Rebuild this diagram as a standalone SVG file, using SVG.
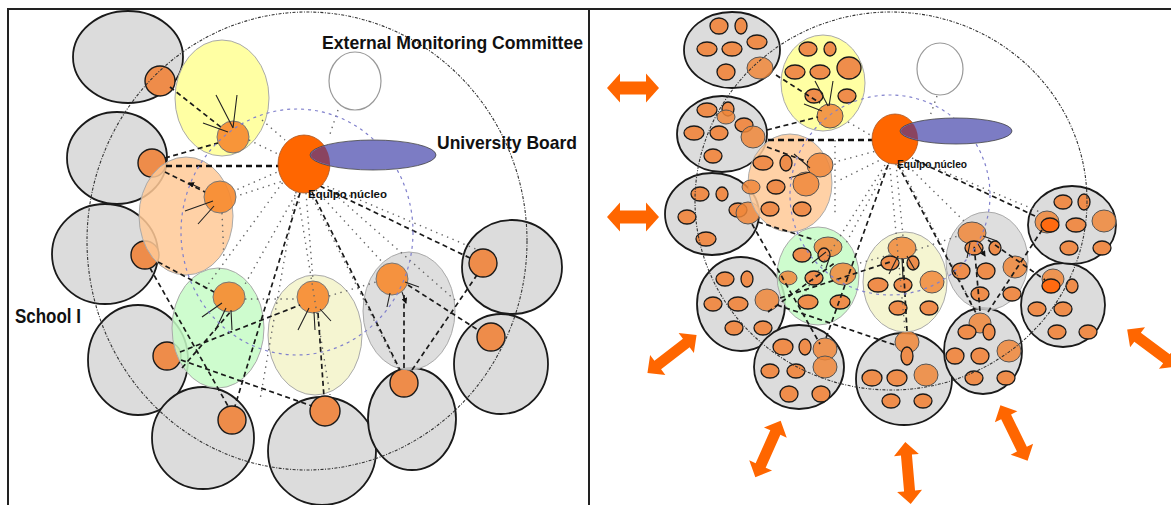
<svg xmlns="http://www.w3.org/2000/svg" width="1171" height="505" viewBox="0 0 1171 505">
<style>
  .frame{stroke:#222;stroke-width:2;fill:none}
  .sc{fill:#dcdcdc;stroke:#1a1a1a;stroke-width:1.8}
  .o{fill:#ee8c4a;stroke:#1a1a1a;stroke-width:1.4}
  .oc{fill:#f7892e;fill-opacity:.9;stroke:#777;stroke-width:1}
  .s{fill:#ef8d4b;stroke:#1a1a1a;stroke-width:1.3}
  .sb{fill:#f0873a;fill-opacity:.85;stroke:#555;stroke-width:1}
  .sd{fill:#ff6a10;stroke:#1a1a1a;stroke-width:1.3}
  .y{fill:#ffff99;fill-opacity:.9;stroke:#aaa;stroke-width:1}
  .p{fill:#ffc996;fill-opacity:.85;stroke:#aaa;stroke-width:1}
  .g{fill:#c6fcc6;fill-opacity:.85;stroke:#aaa;stroke-width:1}
  .ly{fill:#f4f4cc;fill-opacity:.9;stroke:#aaa;stroke-width:1}
  .gr{fill:#d8d8d8;fill-opacity:.85;stroke:#aaa;stroke-width:1}
  .eq{fill:#ff6600;stroke:#aa5522;stroke-width:.8}
  .ub{fill:#7c7cc4;stroke:#444;stroke-width:.8}
  .ubx{fill:#8a4460}
  .wc{fill:#fff;stroke:#999;stroke-width:1.2}
  .dash{stroke:#1a1a1a;stroke-width:1.7;stroke-dasharray:5 3.5;fill:none}
  .heavy{stroke:#111;stroke-width:2.3;stroke-dasharray:6 4;fill:none}
  .dot{stroke:#666;stroke-width:1.4;stroke-dasharray:1.4 4.5;fill:none}
  .blue{stroke:#8080cc;stroke-width:1.2;stroke-dasharray:3 4;fill:none}
  .ring{stroke:#333;stroke-width:1.1;stroke-dasharray:3 1.5 1 1.5;fill:none}
  .ar{stroke:#222;stroke-width:1.1;fill:none;marker-end:url(#ah)}
  .big{fill:#ff6600}
  text{font-family:"Liberation Sans",Arial,sans-serif;font-weight:bold;fill:#111}
</style>
<defs>
  <marker id="ah" viewBox="0 0 6 6" refX="5" refY="3" markerWidth="6" markerHeight="6" markerUnits="userSpaceOnUse" orient="auto">
    <path d="M0,0 L6,3 L0,6 z" fill="#111"/>
  </marker>
  <path id="dblH" d="M-26,0 L-13,-14.5 L-13,-6.5 L13,-6.5 L13,-14.5 L26,0 L13,14.5 L13,6.5 L-13,6.5 L-13,14.5 Z"/>
  <path id="dblD" d="M-31,0 L-18,-12.5 L-18,-5.5 L18,-5.5 L18,-12.5 L31,0 L18,12.5 L18,5.5 L-18,5.5 L-18,12.5 Z"/>
  <clipPath id="eqL"><ellipse cx="304" cy="164" rx="26" ry="29"/></clipPath>
  <clipPath id="eqR"><ellipse cx="895" cy="139" rx="23" ry="25"/></clipPath>
</defs>

<rect width="1171" height="505" fill="#fff"/>

<!-- panel frame -->
<g id="frame">
  <path class="frame" d="M8,505 V9 H1171 M589,9 V505"/>
</g>

<!-- ===== left panel: institution-wide view ===== -->
<g id="left-schools">
  <g id="school-l1"><ellipse class="sc" cx="128" cy="57" rx="55" ry="46"/><circle class="o" cx="160" cy="81" r="15"/></g>
  <g id="school-l2"><ellipse class="sc" cx="117" cy="158" rx="50" ry="46"/><circle class="o" cx="152" cy="163" r="14"/></g>
  <g id="school-l3"><ellipse class="sc" cx="105" cy="254" rx="53" ry="50"/><circle class="o" cx="145" cy="255" r="14"/></g>
  <g id="school-l4"><ellipse class="sc" cx="138" cy="360" rx="50" ry="55"/><circle class="o" cx="167" cy="356" r="14"/></g>
  <g id="school-l5"><ellipse class="sc" cx="203" cy="438" rx="51" ry="51"/><circle class="o" cx="232" cy="420" r="14"/></g>
  <g id="school-l6"><ellipse class="sc" cx="322" cy="451" rx="54" ry="54"/><circle class="o" cx="325" cy="411" r="15"/></g>
  <g id="school-l7"><ellipse class="sc" cx="412" cy="419" rx="44" ry="51"/><circle class="o" cx="404" cy="383" r="14"/></g>
  <g id="school-l8"><ellipse class="sc" cx="501" cy="364" rx="47" ry="50"/><circle class="o" cx="491" cy="337" r="14"/></g>
  <g id="school-l9"><ellipse class="sc" cx="512" cy="267" rx="50" ry="47"/><circle class="o" cx="483" cy="263" r="14"/></g>
</g>

<g id="left-groups">
  <g id="group-l-yellow"><ellipse class="y" cx="222" cy="98" rx="47" ry="58"/><circle class="oc" cx="233" cy="137" r="16"/></g>
  <g id="group-l-peach"><ellipse class="p" cx="186" cy="216" rx="47" ry="59"/><circle class="oc" cx="220" cy="197" r="16"/></g>
  <g id="group-l-green"><ellipse class="g" cx="218" cy="328" rx="46" ry="60"/><ellipse class="oc" cx="229" cy="297" rx="16" ry="15"/></g>
  <g id="group-l-cream"><ellipse class="ly" cx="315" cy="335" rx="47" ry="60"/><circle class="oc" cx="313" cy="297" r="16"/></g>
  <g id="group-l-grey"><ellipse class="gr" cx="409" cy="311" rx="46" ry="59"/><circle class="oc" cx="392" cy="279" r="16"/></g>
</g>

<g id="left-connectors">
  <!-- dotted coordination links -->
  <path class="dot" d="M292,178 L240,195 M298,190 L244,286 M306,193 L313,280 M316,190 L384,264 M322,184 L478,250 M286,178 L204,290 M310,193 L398,368 M296,192 L260,400 M282,170 L236,190 M249,140 L282,156 M338,110 L330,134 M245,299 L297,299 M329,296 L376,282 M222,213 L224,260 M262,120 L285,140 M330,190 L455,300 M298,196 L330,395"/>
  <!-- dashed links -->
  <path class="dash" d="M170,87 L222,128 M165,158 L218,143 M165,172 L205,192 M320,186 L470,258 M312,192 L400,370 M300,193 L235,406 M318,313 L324,397 M181,360 L312,406 M404,295 L404,369 M412,370 L477,275 M408,285 L478,330 M180,352 L300,305 M158,262 L214,292 M150,268 L228,406 M182,368 L232,310"/>
  <path class="heavy" d="M166,166 L292,166"/>
  <!-- arrows inside groups -->
  <path class="ar" d="M233,128 L216,95 M233,128 L237,95 M228,132 L203,123 M213,201 L185,211 M214,206 L198,224 M222,303 L202,317 M226,308 L215,331 M231,310 L232,330 M309,308 L298,330 M314,312 L315,330 M320,309 L331,321 M405,282 L419,287 M390,293 L387,307 M402,292 L406,303"/>
  <path class="ar" d="M200,188 L189,183"/>
  <!-- blue dotted core ring -->
  <ellipse class="blue" cx="297" cy="232" rx="116" ry="123"/>
  <!-- outer institutional ring -->
  <ellipse class="ring" cx="307" cy="241" rx="220" ry="229"/>
</g>

<g id="committee-l"><ellipse class="wc" cx="355" cy="81" rx="26" ry="29"/></g>
<g id="core-team-l">
  <ellipse class="eq" cx="304" cy="164" rx="26" ry="29"/>
</g>
<g id="board-l">
  <ellipse class="ub" cx="373" cy="155" rx="63" ry="15"/>
  <ellipse class="ubx" cx="373" cy="155" rx="62" ry="14" clip-path="url(#eqL)"/>
</g>

<g id="labels-l">
  <text x="322" y="49" font-size="18" textLength="261" lengthAdjust="spacingAndGlyphs">External Monitoring Committee</text>
  <text x="437" y="149" font-size="19" textLength="140" lengthAdjust="spacingAndGlyphs">University Board</text>
  <text x="308" y="198" font-size="11" textLength="79" lengthAdjust="spacingAndGlyphs">Equipo núcleo</text>
  <text x="15" y="323" font-size="20" textLength="66" lengthAdjust="spacingAndGlyphs">School I</text>
</g>

<!-- ===== right panel: schools expanded into teams ===== -->
<g id="right-schools">
  <g id="school-r1"><ellipse class="sc" cx="732" cy="50" rx="48" ry="38"/>
    <ellipse class="s" cx="719" cy="26" rx="9" ry="8"/><ellipse class="s" cx="741" cy="26" rx="6" ry="8"/><ellipse class="s" cx="757" cy="42" rx="10" ry="7"/><ellipse class="s" cx="707" cy="49" rx="10" ry="7"/><ellipse class="s" cx="732" cy="49" rx="10" ry="7"/><ellipse class="s" cx="726" cy="72" rx="9" ry="8"/><ellipse class="sb" cx="760" cy="68" rx="13" ry="11"/></g>
  <g id="school-r2"><ellipse class="sc" cx="722" cy="134" rx="45" ry="38"/>
    <ellipse class="s" cx="707" cy="110" rx="10" ry="7"/><ellipse class="s" cx="728" cy="109" rx="6" ry="7"/><ellipse class="sb" cx="726" cy="117" rx="9" ry="7"/><ellipse class="s" cx="694" cy="133" rx="10" ry="7"/><ellipse class="s" cx="719" cy="133" rx="9" ry="7"/><ellipse class="s" cx="744" cy="125" rx="9" ry="7"/><ellipse class="s" cx="713" cy="156" rx="9" ry="7"/><ellipse class="sb" cx="753" cy="137" rx="12" ry="11"/></g>
  <g id="school-r3"><ellipse class="sc" cx="712" cy="214" rx="47" ry="41"/>
    <ellipse class="s" cx="700" cy="194" rx="9" ry="7"/><ellipse class="s" cx="722" cy="194" rx="6" ry="7"/><ellipse class="s" cx="687" cy="217" rx="9" ry="7"/><ellipse class="s" cx="738" cy="210" rx="9" ry="7"/><ellipse class="s" cx="706" cy="239" rx="10" ry="7"/><ellipse class="sb" cx="748" cy="213" rx="12" ry="11"/></g>
  <g id="school-r4"><ellipse class="sc" cx="741" cy="304" rx="44" ry="47"/>
    <ellipse class="s" cx="725" cy="279" rx="9" ry="7"/><ellipse class="s" cx="747" cy="279" rx="6" ry="8"/><ellipse class="s" cx="713" cy="304" rx="9" ry="7"/><ellipse class="s" cx="738" cy="304" rx="10" ry="7"/><ellipse class="sb" cx="767" cy="300" rx="12" ry="11"/><ellipse class="s" cx="734" cy="328" rx="9" ry="7"/><ellipse class="s" cx="763" cy="328" rx="9" ry="7"/></g>
  <g id="school-r5"><ellipse class="sc" cx="799" cy="367" rx="45" ry="42"/>
    <ellipse class="s" cx="783" cy="347" rx="10" ry="8"/><ellipse class="s" cx="805" cy="347" rx="6" ry="8"/><ellipse class="sb" cx="825" cy="349" rx="12" ry="11"/><ellipse class="s" cx="770" cy="371" rx="9" ry="7"/><ellipse class="s" cx="796" cy="371" rx="9" ry="7"/><ellipse class="sb" cx="825" cy="367" rx="12" ry="11"/><ellipse class="s" cx="789" cy="394" rx="9" ry="8"/><ellipse class="s" cx="821" cy="394" rx="9" ry="8"/></g>
  <g id="school-r6"><ellipse class="sc" cx="904" cy="379" rx="48" ry="46"/>
    <ellipse class="sb" cx="907" cy="342" rx="12" ry="11"/><ellipse class="s" cx="907" cy="356" rx="6" ry="9"/><ellipse class="s" cx="872" cy="378" rx="10" ry="8"/><ellipse class="s" cx="897" cy="378" rx="10" ry="8"/><ellipse class="sb" cx="926" cy="375" rx="12" ry="11"/><ellipse class="s" cx="891" cy="401" rx="9" ry="7"/><ellipse class="s" cx="923" cy="401" rx="9" ry="7"/></g>
  <g id="school-r7"><ellipse class="sc" cx="983" cy="351" rx="39" ry="43"/>
    <ellipse class="sb" cx="980" cy="323" rx="11" ry="10"/><ellipse class="s" cx="967" cy="332" rx="9" ry="7"/><ellipse class="s" cx="989" cy="332" rx="6" ry="8"/><ellipse class="s" cx="955" cy="356" rx="9" ry="8"/><ellipse class="s" cx="980" cy="356" rx="9" ry="8"/><ellipse class="sb" cx="1009" cy="351" rx="12" ry="11"/><ellipse class="s" cx="974" cy="378" rx="9" ry="7"/><ellipse class="s" cx="1006" cy="378" rx="9" ry="7"/></g>
  <g id="school-r8"><ellipse class="sc" cx="1063" cy="305" rx="42" ry="42"/>
    <ellipse class="sb" cx="1053" cy="279" rx="11" ry="10"/><ellipse class="sd" cx="1051" cy="286" rx="9" ry="7"/><ellipse class="s" cx="1072" cy="286" rx="6" ry="7"/><ellipse class="s" cx="1037" cy="309" rx="9" ry="7"/><ellipse class="s" cx="1063" cy="309" rx="9" ry="7"/><ellipse class="s" cx="1057" cy="332" rx="9" ry="7"/><ellipse class="s" cx="1088" cy="332" rx="9" ry="7"/></g>
  <g id="school-r9"><ellipse class="sc" cx="1072" cy="225" rx="44" ry="39"/>
    <ellipse class="s" cx="1063" cy="202" rx="9" ry="7"/><ellipse class="s" cx="1084" cy="202" rx="6" ry="8"/><ellipse class="sb" cx="1047" cy="222" rx="12" ry="11"/><ellipse class="sd" cx="1050" cy="225" rx="9" ry="7"/><ellipse class="s" cx="1076" cy="225" rx="10" ry="7"/><ellipse class="sb" cx="1104" cy="221" rx="12" ry="11"/><ellipse class="s" cx="1069" cy="248" rx="9" ry="7"/><ellipse class="s" cx="1102" cy="248" rx="9" ry="7"/></g>
</g>

<g id="right-groups">
  <g id="group-r-yellow"><ellipse class="y" cx="823" cy="83" rx="42" ry="48"/>
    <ellipse class="s" cx="808" cy="49" rx="9" ry="7"/><ellipse class="s" cx="830" cy="49" rx="6" ry="7"/><ellipse class="s" cx="795" cy="72" rx="10" ry="7"/><ellipse class="s" cx="820" cy="72" rx="10" ry="7"/><ellipse class="s" cx="849" cy="68" rx="12" ry="11"/><ellipse class="s" cx="814" cy="96" rx="9" ry="7"/><ellipse class="s" cx="847" cy="96" rx="9" ry="7"/><ellipse class="sb" cx="830" cy="116" rx="13" ry="12"/></g>
  <g id="group-r-peach"><ellipse class="p" cx="790" cy="183" rx="42" ry="49"/>
    <ellipse class="s" cx="763" cy="163" rx="10" ry="7"/><ellipse class="s" cx="786" cy="163" rx="6" ry="8"/><ellipse class="sb" cx="820" cy="165" rx="13" ry="12"/><ellipse class="sb" cx="751" cy="187" rx="9" ry="7"/><ellipse class="s" cx="776" cy="187" rx="9" ry="7"/><ellipse class="sb" cx="806" cy="184" rx="13" ry="12"/><ellipse class="s" cx="770" cy="209" rx="9" ry="7"/><ellipse class="s" cx="802" cy="209" rx="9" ry="7"/></g>
  <g id="group-r-green"><ellipse class="g" cx="818" cy="276" rx="41" ry="49"/>
    <ellipse class="s" cx="802" cy="255" rx="9" ry="7"/><ellipse class="sb" cx="828" cy="247" rx="14" ry="10"/><ellipse class="s" cx="824" cy="255" rx="6" ry="7"/><ellipse class="sb" cx="788" cy="278" rx="9" ry="7"/><ellipse class="s" cx="814" cy="278" rx="9" ry="7"/><ellipse class="sb" cx="843" cy="274" rx="13" ry="11"/><ellipse class="s" cx="808" cy="302" rx="10" ry="7"/><ellipse class="s" cx="840" cy="302" rx="10" ry="7"/></g>
  <g id="group-r-cream"><ellipse class="ly" cx="905" cy="282" rx="42" ry="50"/>
    <ellipse class="sb" cx="902" cy="248" rx="14" ry="11"/><ellipse class="s" cx="890" cy="263" rx="9" ry="7"/><ellipse class="s" cx="913" cy="263" rx="6" ry="7"/><ellipse class="s" cx="878" cy="285" rx="10" ry="7"/><ellipse class="s" cx="903" cy="285" rx="9" ry="7"/><ellipse class="sb" cx="932" cy="282" rx="12" ry="11"/><ellipse class="s" cx="898" cy="308" rx="9" ry="7"/><ellipse class="s" cx="929" cy="308" rx="9" ry="7"/></g>
  <g id="group-r-grey"><ellipse class="gr" cx="987" cy="261" rx="41" ry="49"/>
    <ellipse class="sb" cx="972" cy="233" rx="14" ry="11"/><ellipse class="s" cx="974" cy="248" rx="9" ry="7"/><ellipse class="s" cx="995" cy="248" rx="6" ry="7"/><ellipse class="s" cx="961" cy="271" rx="9" ry="8"/><ellipse class="s" cx="986" cy="271" rx="9" ry="8"/><ellipse class="sb" cx="1015" cy="267" rx="12" ry="11"/><ellipse class="s" cx="980" cy="294" rx="9" ry="7"/><ellipse class="s" cx="1012" cy="294" rx="9" ry="7"/></g>
</g>

<g id="right-connectors">
  <path class="dot" d="M835,140 L835,215 M884,158 L840,180 M889,163 L845,245 M896,164 L903,236 M904,162 L965,222 M912,158 L1040,212 M880,150 L835,162 M860,263 L893,254 M916,250 L958,236 M885,165 L800,300 M900,165 L975,310 M937,96 L930,116 M848,122 L872,136 M890,168 L905,330"/>
  <path class="dash" d="M776,75 L820,103 M767,130 L818,117 M767,147 L808,162 M915,160 L1035,216 M898,165 L976,313 M888,165 L826,338 M907,331 L903,259 M777,305 L895,345 M980,311 L974,244 M988,312 L1042,230 M988,240 L1045,280 M780,298 L890,262 M758,222 L815,240 M752,224 L820,344 M768,312 L836,262"/>
  <path class="heavy" d="M768,140 L875,140"/>
  <path class="ar" d="M828,106 L815,81 M829,106 L833,81 M822,111 L804,104 M810,168 L794,154 M810,172 L789,178 M826,252 L812,263 M830,256 L826,268 M898,256 L889,274 M902,258 L903,279 M907,256 L915,270 M983,236 L997,241 M970,243 L967,258 M978,244 L985,256"/>
  <ellipse class="blue" cx="890" cy="195" rx="100" ry="100"/>
  <ellipse class="ring" cx="891" cy="201" rx="196" ry="189"/>
</g>

<g id="committee-r"><ellipse class="wc" cx="940" cy="69" rx="23" ry="26"/></g>
<g id="core-team-r"><ellipse class="eq" cx="895" cy="139" rx="23" ry="25"/></g>
<g id="board-r">
  <ellipse class="ub" cx="956" cy="131" rx="56" ry="13"/>
  <ellipse class="ubx" cx="956" cy="131" rx="55" ry="12" clip-path="url(#eqR)"/>
</g>
<g id="labels-r">
  <text x="897" y="168" font-size="10" textLength="70" lengthAdjust="spacingAndGlyphs">Equipo núcleo</text>
</g>

<!-- outward exchange arrows -->
<g id="exchange-arrows" class="big">
  <use href="#dblH" transform="translate(633,88)"/>
  <use href="#dblH" transform="translate(633,217)"/>
  <use href="#dblD" transform="translate(672,354) rotate(-37.6)"/>
  <use href="#dblD" transform="translate(768,449) rotate(-65.9)"/>
  <use href="#dblD" transform="translate(908,473) rotate(85)"/>
  <use href="#dblD" transform="translate(1014,433) rotate(64)"/>
  <use href="#dblD" transform="translate(1152,348) rotate(36.7)"/>
</g>
</svg>
